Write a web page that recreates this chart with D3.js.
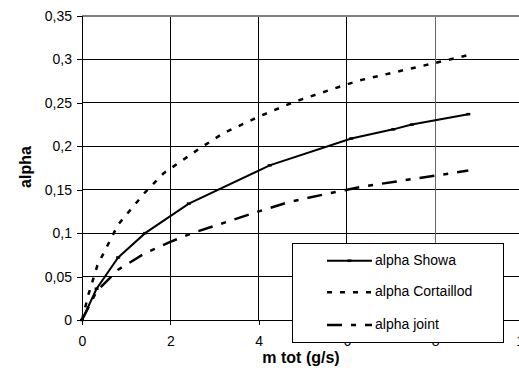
<!DOCTYPE html>
<html>
<head>
<meta charset="utf-8">
<script src="https://cdn.jsdelivr.net/npm/d3@7"></script>
<style>
  html, body { margin: 0; padding: 0; background: #fff; }
  svg { display: block; font-family: "Liberation Sans", Arial, sans-serif; }
</style>
</head>
<body>
<svg id="chart" width="519" height="368"></svg>
<script>
// ---- data ----
const showaX = [0, 0.33, 0.82, 1.43, 2.42, 4.25, 6.1, 7.05, 7.47, 8.75];
const showaY = [0, 0.036, 0.072, 0.100, 0.134, 0.178, 0.209, 0.2195, 0.225, 0.237];

const cortX = [0, 0.15, 0.35, 0.82, 1.43, 1.85, 2.65, 3.2, 4.0, 4.8, 5.8, 6.3, 8.0, 8.75];
const cortY = [0, 0.030, 0.063, 0.110, 0.147, 0.169, 0.197, 0.215, 0.234, 0.251, 0.268, 0.276, 0.296, 0.305];

const jointX = [0, 0.33, 0.82, 1.43, 2.0, 2.5, 3.4, 4.0, 4.7, 5.8, 6.4, 8.1, 8.75];
const jointY = [0, 0.033, 0.058, 0.077, 0.090, 0.100, 0.115, 0.125, 0.136, 0.148, 0.154, 0.167, 0.172];

const seriesNames = ["alpha Showa", "alpha Cortaillod", "alpha joint"];
const xTicks = [0, 2, 4, 6, 8, 10];
const yTicks = [0, 0.05, 0.1, 0.15, 0.2, 0.25, 0.3, 0.35];
const xTitle = "m tot (g/s)";
const yTitle = "alpha";

// ---- layout ----
const svg = d3.select("#chart");
const x = d3.scaleLinear().domain([0, 10]).range([82, 523.5]);
const y = d3.scaleLinear().domain([0, 0.35]).range([320, 16]);
const fmt = v => d3.format(".2~f")(v).replace(".", ",");

// gridlines
const grid = svg.append("g").attr("shape-rendering", "crispEdges");
grid.selectAll("line.h").data(yTicks.filter(v => v > 0 && v < 0.35)).join("line")
  .attr("x1", x(0)).attr("x2", x(10)).attr("y1", d => y(d)).attr("y2", d => y(d))
  .attr("stroke", "#000").attr("stroke-width", 1);
grid.selectAll("line.v").data(xTicks.filter(v => v > 0 && v < 10)).join("line")
  .attr("x1", d => x(d)).attr("x2", d => x(d)).attr("y1", y(0)).attr("y2", y(0.35))
  .attr("stroke", d => d === 8 ? "#666" : "#000").attr("stroke-width", 1);
// plot area border (top / right)
grid.append("line").attr("x1", x(0)).attr("x2", x(10)).attr("y1", y(0.35)).attr("y2", y(0.35))
  .attr("stroke", "#808080").attr("stroke-width", 2);
grid.append("line").attr("x1", x(10)).attr("x2", x(10)).attr("y1", y(0.35)).attr("y2", y(0))
  .attr("stroke", "#808080").attr("stroke-width", 2);

// axes
const xAxis = d3.axisBottom(x).tickValues(xTicks).tickSize(5).tickPadding(11).tickFormat(d3.format("d"));
const yAxis = d3.axisLeft(y).tickValues(yTicks).tickSize(5).tickPadding(5).tickFormat(fmt);
const gx = svg.append("g").attr("transform", `translate(0,${y(0)})`).call(xAxis);
const gy = svg.append("g").attr("transform", `translate(${x(0)},0)`).call(yAxis);
[gx, gy].forEach(g => {
  g.selectAll(".domain").attr("stroke", "#000").attr("shape-rendering", "crispEdges");
  g.selectAll(".tick line").attr("stroke", "#000").attr("shape-rendering", "crispEdges");
  g.selectAll("text").attr("font-family", "Liberation Sans, Arial, sans-serif")
    .attr("font-size", 14).attr("fill", "#000");
});
gx.select(".domain").attr("d", `M${x(0)},0H${x(10)}`);
gy.select(".domain").attr("d", `M0,${y(0)}V${y(0.35)}`);

// series
const styles = [
  { xs: showaX, ys: showaY, dash: null, w: 2 },
  { xs: cortX, ys: cortY, dash: "5,8", w: 2.5 },
  { xs: jointX, ys: jointY, dash: "15,9,5,9", w: 2.5 }
];
const line = d3.line().x(d => x(d[0])).y(d => y(d[1]));
styles.forEach(s => {
  const pts = s.xs.map((v, i) => [v, s.ys[i]]);
  svg.append("path").datum(pts).attr("d", line)
    .attr("fill", "none").attr("stroke", "#000").attr("stroke-width", s.w)
    .attr("stroke-dasharray", s.dash);
  if (s === styles[0]) {
    svg.append("g").selectAll("rect").data(pts).join("rect")
      .attr("x", d => x(d[0]) - 2).attr("y", d => y(d[1]) - 1.25)
      .attr("width", 4).attr("height", 2.5).attr("fill", "#000");
  }
});

// legend
const lg = svg.append("g");
lg.append("rect").attr("x", 292.5).attr("y", 243.5).attr("width", 211).attr("height", 99)
  .attr("fill", "#fff").attr("stroke", "#000").attr("stroke-width", 1);
const rowY = [260.7, 292.3, 325];
seriesNames.forEach((name, i) => {
  lg.append("line").attr("x1", 327).attr("x2", 372).attr("y1", rowY[i]).attr("y2", rowY[i])
    .attr("stroke", "#000").attr("stroke-width", styles[i].w).attr("stroke-dasharray", styles[i].dash);
  if (i === 0) lg.append("rect").attr("x", 347.5).attr("y", rowY[i] - 1.25).attr("width", 4).attr("height", 2.5);
  lg.append("text").attr("x", 375).attr("y", rowY[i] + 4)
    .attr("font-size", 14).attr("fill", "#000").text(name);
});

// axis titles
svg.append("text").attr("x", 301).attr("y", 362.5).attr("text-anchor", "middle")
  .attr("font-size", 16).attr("font-weight", "bold").text(xTitle);
svg.append("text").attr("transform", "translate(31,167) rotate(-90)").attr("text-anchor", "middle")
  .attr("font-size", 16).attr("font-weight", "bold").text(yTitle);
</script>
</body>
</html>
